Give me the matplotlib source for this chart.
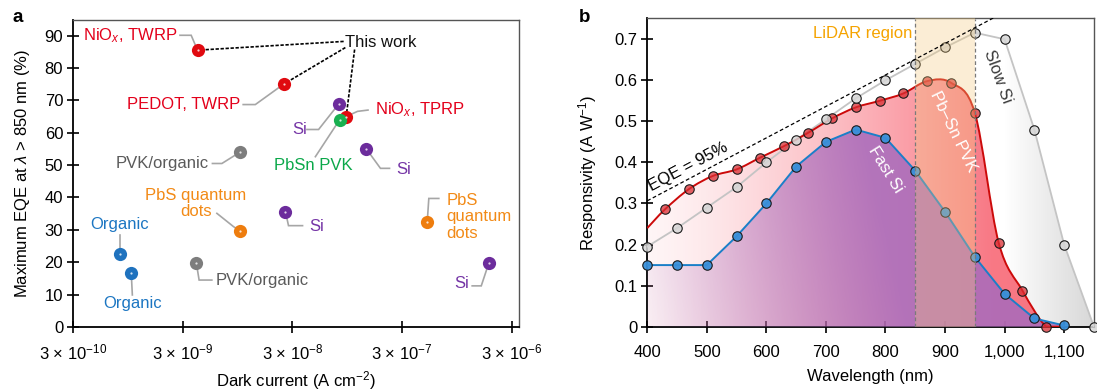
import numpy as np
import matplotlib
matplotlib.use("Agg")
import matplotlib.pyplot as plt
from matplotlib.path import Path
from matplotlib.patches import PathPatch
from matplotlib.ticker import FuncFormatter, NullLocator

plt.rcParams['font.family'] = ['Liberation Sans', 'DejaVu Sans']
plt.rcParams['mathtext.fontset'] = 'custom'
plt.rcParams['mathtext.rm'] = 'Liberation Sans'
plt.rcParams['mathtext.it'] = 'Liberation Sans:italic'
plt.rcParams['mathtext.bf'] = 'Liberation Sans:bold'

FS = 12

# ── Panel a: max EQE (>850 nm) vs dark current for reported NIR photodetectors ──
dev_kind = ['red', 'red', 'red', 'green', 'purple', 'purple', 'gray', 'orange',
            'blue', 'blue', 'gray', 'purple', 'orange', 'purple']
dark_current = [4.1e-9, 2.5e-8, 9.3e-8, 8.1e-8, 8.0e-8, 1.42e-7, 1.0e-8, 1.0e-8,
                8.0e-10, 1.02e-9, 4.0e-9, 2.6e-8, 5.1e-7, 1.86e-6]
max_eqe = [85.5, 75, 65, 64, 69, 55, 54, 29.7, 22.5, 16.7, 19.8, 35.6, 32.5, 19.8]

xtick_vals = [3e-10, 3e-9, 3e-8, 3e-7, 3e-6]
xtick_text = ['3 × 10$^{-10}$', '3 × 10$^{-9}$', '3 × 10$^{-8}$',
              '3 × 10$^{-7}$', '3 × 10$^{-6}$']

# ── Panel b: responsivity spectra ──
pvk_wl = [430, 470, 510, 550, 590, 630, 670, 710, 750, 790, 830, 870, 910, 950,
          990, 1030, 1070]
pvk_resp = [0.286, 0.335, 0.367, 0.383, 0.412, 0.44, 0.472, 0.507, 0.534, 0.55,
            0.568, 0.598, 0.594, 0.521, 0.205, 0.088, 0.0]
pvk_start = (400, 0.24)
pvk_end = (1100, 0.0)

fast_wl = [400, 450, 500, 550, 600, 650, 700, 750, 800, 850, 900, 950, 1000, 1050, 1100]
fast_resp = [0.15, 0.15, 0.15, 0.22, 0.30, 0.39, 0.45, 0.48, 0.46, 0.38, 0.28,
             0.17, 0.08, 0.02, 0.003]

slow_wl = [400, 450, 500, 550, 600, 650, 700, 750, 800, 850, 900, 950, 1000,
           1050, 1100, 1150]
slow_resp = [0.195, 0.24, 0.29, 0.34, 0.40, 0.455, 0.505, 0.556, 0.60, 0.64,
             0.68, 0.716, 0.70, 0.48, 0.20, 0.0]

lidar_band = (850, 950)
eqe_ref = 0.95

TEXT_COL = {'red': '#e3001b', 'purple': '#7535a6', 'green': '#0ba84a',
            'gray': '#5a5a5a', 'orange': '#f28a16', 'blue': '#1c76c2'}
DOT_COL = {'red': '#e00a10', 'purple': '#6c2c9c', 'green': '#18b050',
           'gray': '#7d7d7d', 'orange': '#ee7d0e', 'blue': '#1f72be'}
LEADER = '#a6a6a6'


def style_axes(ax):
    for side in ('left', 'bottom'):
        ax.spines[side].set_linewidth(1.3)
        ax.spines[side].set_color('black')
    for side in ('top', 'right'):
        ax.spines[side].set_linewidth(1.0)
        ax.spines[side].set_color('#555555')
    ax.tick_params(direction='inout', length=8, width=1.2, labelsize=FS, pad=3,
                   top=False, right=False)


def smooth_path(xs, ys):
    # Catmull-Rom through the points, handed to matplotlib as cubic Bezier segments
    pts = np.column_stack([xs, ys]).astype(float)
    ext = np.vstack([pts[0], pts, pts[-1]])
    verts = [pts[0]]
    codes = [Path.MOVETO]
    for i in range(len(pts) - 1):
        p0, p1, p2, p3 = ext[i], ext[i + 1], ext[i + 2], ext[i + 3]
        c1 = p1 + (p2 - p0) / 6
        c2 = p2 - (p3 - p1) / 6
        c1[1] = max(c1[1], 0)
        c2[1] = max(c2[1], 0)
        verts += [c1, c2, p2]
        codes += [Path.CURVE4] * 3
    return verts, codes


def closed_to_base(verts, codes):
    v = list(verts) + [(verts[-1][0], 0), (verts[0][0], 0), (verts[0][0], 0)]
    c = list(codes) + [Path.LINETO, Path.LINETO, Path.CLOSEPOLY]
    return Path(v, c)


def polygon_to_base(xs, ys):
    v = list(zip(xs, ys)) + [(xs[-1], 0), (xs[0], 0), (xs[0], 0)]
    c = [Path.MOVETO] + [Path.LINETO] * (len(xs) + 1) + [Path.CLOSEPOLY]
    return Path(v, c)


def gradient_fill(ax, path, rgba, zorder):
    patch = PathPatch(path, facecolor='none', edgecolor='none')
    ax.add_patch(patch)
    im = ax.imshow(rgba, extent=[400, 1150, 0, 0.75], origin='lower',
                   aspect='auto', interpolation='bilinear', zorder=zorder)
    im.set_clip_path(patch)


fig = plt.figure(figsize=(10.97, 3.91), dpi=100)

# ─────────────────────────── panel a ───────────────────────────
ax = fig.add_axes([0.0665, 0.1637, 0.4066, 0.785])
style_axes(ax)
ax.tick_params(axis='x', pad=7)
ax.set_xscale('log')
ax.set_xlim(3e-10, 3.5e-6)
ax.set_ylim(0, 94.8)
ax.set_xticks(xtick_vals)
ax.set_xticklabels(xtick_text)
ax.xaxis.set_minor_locator(NullLocator())
ax.set_yticks(range(0, 100, 10))
ax.set_xlabel('Dark current (A cm$^{-2}$)', fontsize=FS, labelpad=5)
ax.set_ylabel('Maximum EQE at $\\lambda$ > 850 nm (%)', fontsize=FS, labelpad=9)

# leader lines (label -> marker)
leaders = [
    ([2.84e-9, 3.59e-9, 4.1e-9], [90.1, 90.1, 85.5]),
    ([1.07e-8, 1.38e-8, 2.5e-8], [68.7, 68.7, 75]),
    ([1.47e-7, 1.18e-7, 9.3e-8], [67.0, 66.6, 65]),
    ([4.08e-8, 5.21e-8, 8.0e-8], [61.0, 61.0, 69]),
    ([4.87e-8, 8.1e-8], [52.6, 64]),
    ([2.31e-7, 1.91e-7, 1.42e-7], [49.0, 49.0, 55]),
    ([5.61e-9, 6.84e-9, 1.0e-8], [50.5, 50.5, 54]),
    ([6.16e-9, 8.73e-9, 1.0e-8], [35.1, 31.0, 29.7]),
    ([8.05e-10, 8.05e-10], [28.4, 22.5]),
    ([1.044e-9, 1.02e-9], [9.9, 16.7]),
    ([5.54e-9, 4.24e-9, 4.0e-9], [14.5, 14.5, 19.8]),
    ([3.72e-8, 2.77e-8, 2.6e-8], [31.3, 31.3, 35.6]),
    ([6.50e-7, 5.27e-7, 5.1e-7], [39.7, 39.7, 32.5]),
    ([1.31e-6, 1.585e-6, 1.86e-6], [12.7, 12.7, 19.8]),
]
for lx, ly in leaders:
    ax.plot(lx, ly, color=LEADER, lw=1.2, zorder=2, solid_joinstyle='miter')

# "This work" dashed pointers
for (x0, y0), i in [((8.82e-8, 88.2), 0), ((9.14e-8, 86.3), 1), ((1.11e-7, 85.7), 2)]:
    ax.plot([x0, dark_current[i]], [y0, max_eqe[i]], color='black', lw=1.2,
            ls=(0, (2, 1)), zorder=2)

for x, y, k in zip(dark_current, max_eqe, dev_kind):
    ax.plot(x, y, 'o', ms=9.5, color=DOT_COL[k], mec='none', zorder=3)
    ax.plot(x, y, 'o', ms=1.6, color='white', mec='none', alpha=0.8, zorder=4)

labels_a = [
    ('NiO$_{x}$, TWRP', 2.67e-9, 90.1, 'right', 'red'),
    ('This work', 9.14e-8, 88.0, 'left', None),
    ('PEDOT, TWRP', 1.005e-8, 68.7, 'right', 'red'),
    ('NiO$_{x}$, TPRP', 1.72e-7, 67.0, 'left', 'red'),
    ('Si', 4.08e-8, 61.0, 'right', 'purple'),
    ('PbSn PVK', 4.69e-8, 50.0, 'center', 'green'),
    ('Si', 2.67e-7, 48.7, 'left', 'purple'),
    ('PVK/organic', 5.16e-9, 50.5, 'right', 'gray'),
    ('PbS quantum\ndots', 3.96e-9, 38.2, 'center', 'orange'),
    ('Organic', 7.94e-10, 31.8, 'center', 'blue'),
    ('Organic', 1.044e-9, 7.3, 'center', 'blue'),
    ('PVK/organic', 5.94e-9, 14.5, 'left', 'gray'),
    ('Si', 4.32e-8, 31.0, 'left', 'purple'),
    ('PbS\nquantum\ndots', 7.60e-7, 34.0, 'left', 'orange'),
    ('Si', 1.22e-6, 13.3, 'right', 'purple'),
]
for txt, x, y, ha, k in labels_a:
    ax.text(x, y, txt, ha=ha, va='center', fontsize=FS,
            color=TEXT_COL[k] if k else '#111111', linespacing=1.1, zorder=5)

# ─────────────────────────── panel b ───────────────────────────
bx = fig.add_axes([0.590, 0.1645, 0.4072, 0.7887])
style_axes(bx)
bx.tick_params(axis='x', pad=9)

gx = np.linspace(400, 1150, 500)
gy = np.linspace(0, 0.75, 200)
GX, GY = np.meshgrid(gx, gy)

# slow Si: white -> light grey towards long wavelengths
slow_rgba = np.zeros(GX.shape + (4,))
slow_rgba[..., :3] = [0.83, 0.83, 0.83]
slow_rgba[..., 3] = np.clip((GX - 1000) / 150, 0, 1) * 0.9
gradient_fill(bx, polygon_to_base(slow_wl, slow_resp), slow_rgba, 1)

# Pb-Sn PVK: faint pink -> red
pvk_x = [pvk_start[0]] + pvk_wl + [pvk_end[0]]
pvk_y = [pvk_start[1]] + pvk_resp + [pvk_end[1]]
pvk_verts, pvk_codes = smooth_path(pvk_x, pvk_y)
red_rgba = np.zeros(GX.shape + (4,))
red_rgba[..., :3] = [0.97, 0.34, 0.40]
red_rgba[..., 3] = 0.06 + 0.74 * np.clip((GX - 400) / 580, 0, 1) ** 1.3
gradient_fill(bx, closed_to_base(pvk_verts, pvk_codes), red_rgba, 2)

# fast Si: lavender -> purple
pur_rgba = np.zeros(GX.shape + (4,))
pur_rgba[..., :3] = [0.66, 0.42, 0.74]
pur_rgba[..., 3] = np.clip(0.05 + 0.78 * (GX - 400) / 420 + 0.3 * GY, 0, 0.86)
gradient_fill(bx, polygon_to_base(fast_wl, fast_resp), pur_rgba, 3)

bx.plot(slow_wl, slow_resp, color='#c4c4c4', lw=1.3, zorder=4)
bx.add_patch(PathPatch(Path(pvk_verts, pvk_codes), facecolor='none',
                       edgecolor='#cc0a0a', lw=1.4, zorder=5))
bx.plot(fast_wl, fast_resp, color='#1a7fc8', lw=1.4, zorder=6)

bx.plot(pvk_wl, pvk_resp, 'o', ms=6.8, mfc=(0.85, 0.18, 0.2, 0.75), mec='#1a1a1a',
        mew=0.8, zorder=7, clip_on=False)
bx.plot(slow_wl, slow_resp, 'o', ms=6.8, mfc=(0.84, 0.84, 0.84, 0.85), mec='#1a1a1a',
        mew=0.8, zorder=7.5, clip_on=False)
bx.plot(fast_wl, fast_resp, 'o', ms=6.8, mfc=(0.22, 0.56, 0.85, 0.95), mec='#1a1a1a',
        mew=0.8, zorder=8, clip_on=False)

# LiDAR window
bx.axvspan(*lidar_band, color='#f3cb80', alpha=0.33, lw=0, zorder=9)
for xb in lidar_band:
    bx.plot([xb, xb], [0, 0.75], color='#7a7a7a', lw=0.9, ls=(0, (3, 2)), zorder=9)
bx.text(lidar_band[0] - 4, 0.715, 'LiDAR region', ha='right', va='center',
        fontsize=FS, color='#f5a300', zorder=10)

# EQE = 95 % reference: R = EQE * lambda / 1239.84
ref_wl = np.array([400, 1150])
bx.plot(ref_wl, eqe_ref * ref_wl / 1239.84, color='black', lw=0.9,
        ls=(0, (3, 2)), zorder=9)
bx.text(410, 0.322, 'EQE = 95%', rotation=28, rotation_mode='anchor',
        ha='left', va='bottom', fontsize=FS, zorder=10)

bx.text(800, 0.382, 'Fast Si', rotation=-58, rotation_mode='anchor', ha='center',
        va='center', fontsize=FS, color='white', zorder=10)
bx.text(914, 0.474, 'Pb–Sn PVK', rotation=-64, rotation_mode='anchor', ha='center',
        va='center', fontsize=FS, color='white', zorder=10)
bx.text(988, 0.608, 'Slow Si', rotation=-70, rotation_mode='anchor', ha='center',
        va='center', fontsize=FS, color='#3a3a3a', zorder=10)

bx.set_xlim(400, 1150)
bx.set_ylim(0, 0.751)
bx.set_xticks(range(400, 1101, 100))
bx.xaxis.set_major_formatter(FuncFormatter(lambda v, p: f'{v:,.0f}'))
bx.set_yticks(np.arange(0, 0.71, 0.1))
bx.yaxis.set_major_formatter(FuncFormatter(lambda v, p: '0' if abs(v) < 1e-9 else f'{v:.1f}'))
bx.set_xlabel('Wavelength (nm)', fontsize=FS, labelpad=7)
bx.set_ylabel('Responsivity (A W$^{-1}$)', fontsize=FS, labelpad=11)

fig.text(17.5 / 1097, 1 - 18 / 391, 'a', fontsize=13.5, fontweight='bold', ha='center', va='center')
fig.text(585 / 1097, 1 - 17.5 / 391, 'b', fontsize=13.5, fontweight='bold', ha='center', va='center')

fig.savefig('out.png', dpi=100)
